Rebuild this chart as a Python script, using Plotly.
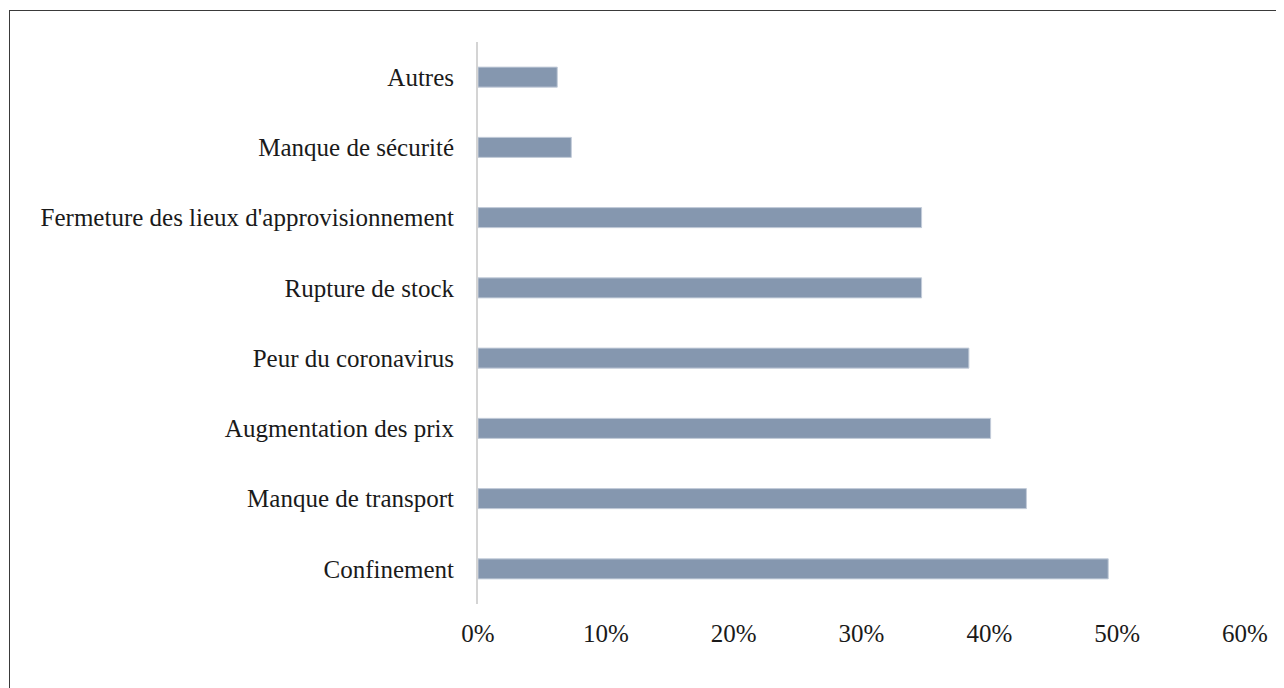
import plotly.graph_objects as go

# categories from bottom to top, as in the picture
categories = [
    "Confinement",
    "Manque de transport",
    "Augmentation des prix",
    "Peur du coronavirus",
    "Rupture de stock",
    "Fermeture des lieux d'approvisionnement",
    "Manque de sécurité",
    "Autres",
]
shares = [0.493, 0.429, 0.401, 0.384, 0.347, 0.347, 0.073, 0.062]
tick_values = [0, 0.1, 0.2, 0.3, 0.4, 0.5, 0.6]
tick_labels = ["0%", "10%", "20%", "30%", "40%", "50%", "60%"]

# the page body adds an 8px margin, so the figure is a bit smaller than the window
W, H = 1276, 680
ML, MR, MT, MB = 470, 39, 34, 84
FONT = "Liberation Serif, Times New Roman, serif"

fig = go.Figure()
fig.add_trace(go.Bar(
    y=categories,
    x=shares,
    orientation="h",
    width=0.285,
    marker=dict(color="#8597AF", line=dict(color="#C3CCD9", width=1)),
    hoverinfo="x+y",
))

# thin frame on top and left, as in the source image
pw = W - ML - MR
ph = H - MT - MB
px = lambda v: (v - ML) / pw
py = lambda v: 1 - (v - MT) / ph
frame = dict(color="#3a3a3a", width=1)
fig.add_shape(type="line", xref="paper", yref="paper",
              x0=px(1), x1=px(W + 5), y0=py(2.5), y1=py(2.5), line=frame)
fig.add_shape(type="line", xref="paper", yref="paper",
              x0=px(1.5), x1=px(1.5), y0=py(2), y1=py(H + 5), line=frame)

fig.update_layout(
    width=W, height=H,
    margin=dict(l=ML, r=MR, t=MT, b=MB),
    paper_bgcolor="white",
    plot_bgcolor="white",
    showlegend=False,
    font=dict(family=FONT, size=25, color="#1a1a1a"),
)
fig.update_xaxes(
    range=[0, 0.6],
    tickvals=tick_values,
    ticktext=tick_labels,
    showgrid=False,
    zeroline=False,
    showline=False,
    ticks="",
    ticklabelstandoff=12,
    tickfont=dict(family=FONT, size=25, color="#1a1a1a"),
)
fig.update_yaxes(
    categoryorder="array",
    categoryarray=categories,
    showgrid=False,
    zeroline=False,
    showline=True,
    linecolor="#d4d4d4",
    linewidth=2,
    ticks="",
    ticklabelstandoff=17,
    tickfont=dict(family=FONT, size=25, color="#1a1a1a"),
)

fig.write_html("out.html")
